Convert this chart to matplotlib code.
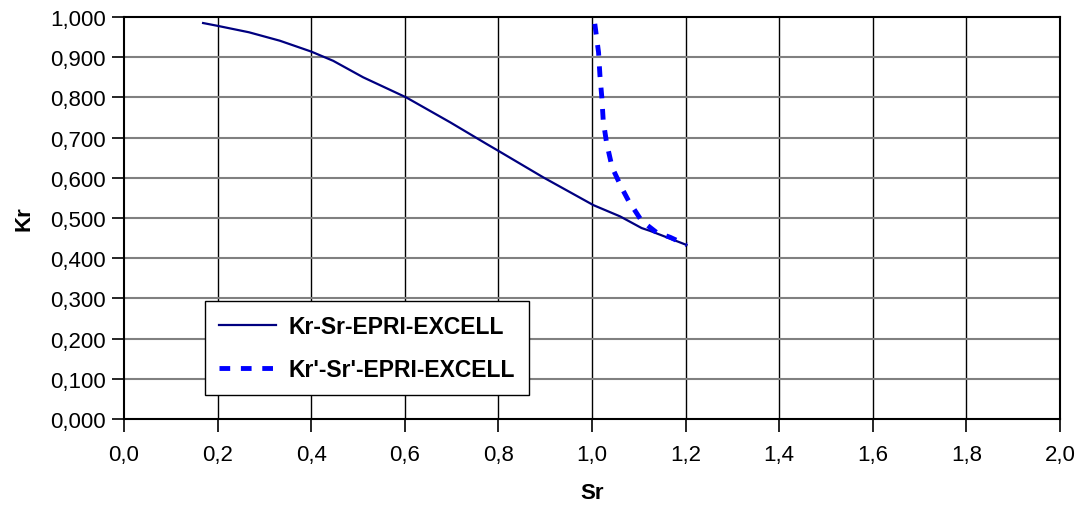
import numpy as np
import matplotlib.pyplot as plt

plt.rcParams['font.family'] = ['Liberation Sans', 'DejaVu Sans']

# Kr-Sr curve
sr = [0.169, 0.2, 0.267, 0.333, 0.400, 0.447, 0.511, 0.603, 0.697, 0.775, 0.800,
      0.896, 1.003, 1.060, 1.106, 1.124, 1.202]
kr = [0.985, 0.978, 0.962, 0.941, 0.914, 0.891, 0.850, 0.800, 0.738, 0.684, 0.667,
      0.601, 0.532, 0.504, 0.475, 0.468, 0.433]

# Kr'-Sr' curve
sr2 = [1.006, 1.014, 1.017, 1.021, 1.024, 1.031, 1.043, 1.063, 1.078, 1.106,
       1.138, 1.167, 1.202]
kr2 = [0.983, 0.912, 0.854, 0.800, 0.742, 0.688, 0.626, 0.576, 0.543, 0.493,
       0.464, 0.452, 0.433]

xticks = np.arange(0, 2.01, 0.2)
yticks = np.arange(0, 1.001, 0.1)

fig = plt.figure(figsize=(10.84, 5.06), dpi=100)
ax = fig.add_axes([124/1084, 86/506, 936/1084, 402/506])

ax.plot(sr, kr, color='#000080', lw=1.6, label='Kr-Sr-EPRI-EXCELL', zorder=3)
ax.plot(sr2, kr2, color='#0000FF', lw=3.5, ls=(0, (2.2, 2.2)),
        label="Kr'-Sr'-EPRI-EXCELL", zorder=4)

ax.set_xlim(0, 2.0)
ax.set_ylim(0, 1.0)
ax.set_xticks(xticks)
ax.set_yticks(yticks)
ax.set_xticklabels([f'{v:.1f}'.replace('.', ',') for v in xticks])
ax.set_yticklabels([f'{v:.3f}'.replace('.', ',') for v in yticks])
ax.tick_params(direction='out', length=9, width=1.2, labelsize=16, pad=4)
ax.tick_params(axis='x', pad=9)

for v in xticks[1:-1]:
    ax.axvline(v, color='black', lw=1.0, zorder=1)
for v in yticks[1:-1]:
    ax.axhline(v, color='#808080', lw=1.5, zorder=1)
for s in ax.spines.values():
    s.set_linewidth(1.5)

ax.set_xlabel('Sr', fontsize=16, fontweight='bold', labelpad=12)
ax.set_ylabel('Kr', fontsize=16, fontweight='bold', labelpad=11)

leg = ax.legend(loc='upper left', bbox_to_anchor=(0.0865, 0.294), borderaxespad=0,
                prop={'weight': 'bold', 'size': 16.5}, fancybox=False,
                edgecolor='black', framealpha=1, handlelength=2.5, handletextpad=0.55,
                borderpad=0.6, labelspacing=0.9)
leg.get_frame().set_linewidth(1.0)

fig.savefig('out.png', dpi=100)
